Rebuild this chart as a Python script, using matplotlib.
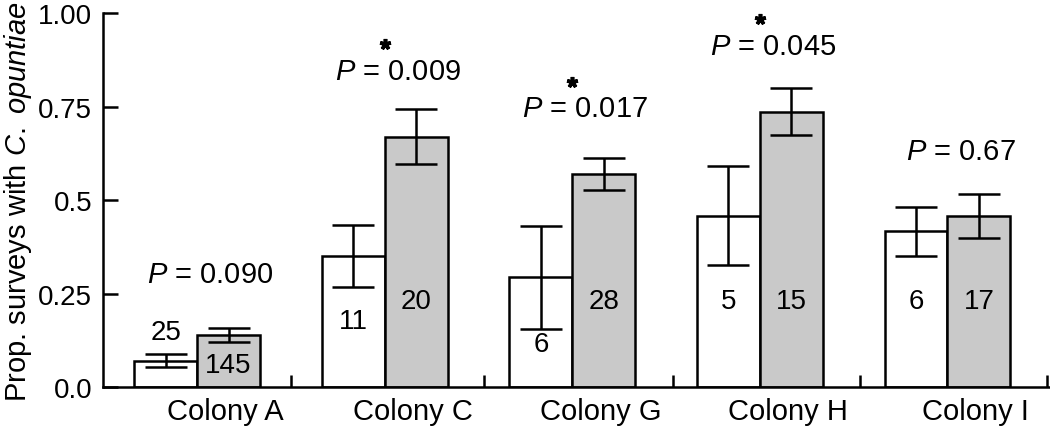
import matplotlib
matplotlib.use("Agg")
import matplotlib.pyplot as plt
import numpy as np

plt.rcParams['font.family'] = ['Liberation Sans', 'DejaVu Sans']
plt.rcParams['mathtext.fontset'] = 'custom'
plt.rcParams['mathtext.rm'] = 'Liberation Sans'
plt.rcParams['mathtext.it'] = 'Liberation Sans:italic'

colonies = ["Colony A", "Colony C", "Colony G", "Colony H", "Colony I"]
white_vals = [0.071, 0.350, 0.294, 0.458, 0.417]
white_err = [0.018, 0.083, 0.137, 0.132, 0.066]
gray_vals = [0.140, 0.670, 0.570, 0.736, 0.458]
gray_err = [0.018, 0.073, 0.043, 0.063, 0.058]
white_n = ["25", "11", "6", "5", "6"]
gray_n = ["145", "20", "28", "15", "17"]
p_values = ["0.090", "0.009", "0.017", "0.045", "0.67"]
significant = [False, True, True, True, False]
yticks = [0.0, 0.25, 0.5, 0.75, 1.0]
ytick_labels = ["0.0", "0.25", "0.5", "0.75", "1.00"]

# layout of the annotations
white_n_y = [0.148, 0.178, 0.116, 0.231, 0.231]
gray_n_y = [0.060, 0.231, 0.231, 0.231, 0.231]
p_y = [0.303, 0.846, 0.745, 0.913, 0.632]

fs = 21
fs_small = 20
lw = 1.8
w = 0.335
x = np.arange(len(colonies))

fig = plt.figure(figsize=(10.5, 4.31), dpi=100)
ax = fig.add_axes([0.0984, 0.099, 1 - 0.0984, 0.8685])

ax.bar(x - w / 2, white_vals, w, color="white", edgecolor="black", linewidth=lw, zorder=2)
ax.bar(x + w / 2, gray_vals, w, color="#c9c9c9", edgecolor="black", linewidth=lw, zorder=2)
ax.errorbar(x - w / 2, white_vals, yerr=white_err, fmt="none", ecolor="black",
            elinewidth=lw, capsize=15, capthick=lw, zorder=3)
ax.errorbar(x + w / 2, gray_vals, yerr=gray_err, fmt="none", ecolor="black",
            elinewidth=lw, capsize=15, capthick=lw, zorder=3)

for i in range(len(colonies)):
    ax.text(x[i] - w / 2, white_n_y[i], white_n[i], ha="center", va="center", fontsize=fs_small, zorder=4)
    ax.text(x[i] + w / 2, gray_n_y[i], gray_n[i], ha="center", va="center", fontsize=fs_small, zorder=4)
    ax.text(x[i] + 0.07, p_y[i], r"$\mathit{P}$ = " + p_values[i], ha="center", va="center",
            fontsize=fs, clip_on=False)
    if significant[i]:
        # significance asterisk drawn as a marker
        ax.plot(x[i], p_y[i] + 0.07, marker=(5, 2, 0), markersize=8, color="black",
                markeredgewidth=2.6, clip_on=False)

ax.set_xlim(-0.5, 4.547)
ax.set_ylim(0, 1.0)
ax.set_yticks(yticks)
ax.set_yticklabels(ytick_labels, fontsize=fs_small)
ax.tick_params(axis="y", direction="in", length=11, width=lw, pad=8)

ax.set_xticks(x + 0.15)
ax.set_xticklabels(colonies, fontsize=fs)
ax.tick_params(axis="x", length=0, pad=7)
ax.set_xticks([0.5, 1.53, 2.535, 3.534, 4.53], minor=True)
ax.tick_params(axis="x", which="minor", direction="in", length=9, width=lw)

ax.set_ylabel(r"Prop. surveys with $\mathit{C.\ opuntiae}$", fontsize=fs, labelpad=3)

for s in ["top", "right"]:
    ax.spines[s].set_visible(False)
for s in ["left", "bottom"]:
    ax.spines[s].set_linewidth(lw)

fig.savefig("out.png", dpi=100)
